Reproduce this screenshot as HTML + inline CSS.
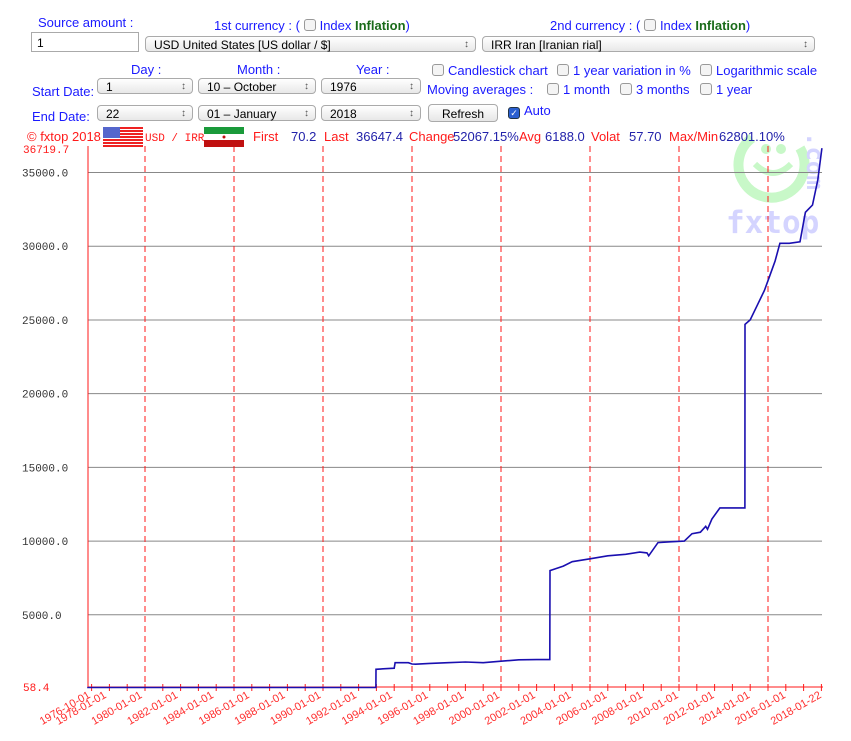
<!DOCTYPE html>
<html><head><meta charset="utf-8">
<style>
body{margin:0;width:851px;height:741px;background:#fff;font-family:"Liberation Sans",sans-serif;position:relative;overflow:hidden}
.a{position:absolute;white-space:nowrap}
.lb{color:#1a1aff;font-size:13px}
.sel{position:absolute;height:16px;border:1px solid #aaa;border-radius:4px;background:linear-gradient(#fff,#e8e8e8);font-size:12px;line-height:16px;padding-left:8px;box-sizing:border-box;color:#000}
.sel:after{content:"\2195";position:absolute;right:6px;top:0;font-size:10px;color:#555}
.cb{display:inline-block;width:10px;height:10px;border:1px solid #999;border-radius:3px;background:#f4f4f4;vertical-align:-1px;margin-right:4px}
.g{color:#1a6b1a;font-weight:bold}
</style></head><body>
<div class="a lb" style="left:38px;top:15px">Source amount :</div>
<div class="a" style="left:31px;top:32px;width:108px;height:20px;border:1px solid #aaa;box-sizing:border-box;font-size:12px;padding:3px 5px">1</div>
<div class="a lb" style="left:214px;top:18px">1st currency : ( <span class="cb"></span>Index <span class="g">Inflation</span>)</div>
<div class="sel" style="left:145px;top:36px;width:331px">USD United States [US dollar / $]</div>
<div class="a lb" style="left:550px;top:18px">2nd currency : ( <span class="cb"></span>Index <span class="g">Inflation</span>)</div>
<div class="sel" style="left:482px;top:36px;width:333px">IRR Iran [Iranian rial]</div>
<div class="a lb" style="left:131px;top:62px">Day :</div>
<div class="a lb" style="left:237px;top:62px">Month :</div>
<div class="a lb" style="left:356px;top:62px">Year :</div>
<div class="a lb" style="left:32px;top:84px">Start Date:</div>
<div class="a lb" style="left:32px;top:109px">End Date:</div>
<div class="sel" style="left:97px;top:78px;width:96px">1</div>
<div class="sel" style="left:198px;top:78px;width:118px">10 – October</div>
<div class="sel" style="left:321px;top:78px;width:100px">1976</div>
<div class="sel" style="left:97px;top:105px;width:96px">22</div>
<div class="sel" style="left:198px;top:105px;width:118px">01 – January</div>
<div class="sel" style="left:321px;top:105px;width:100px">2018</div>
<div class="a lb" style="left:432px;top:63px"><span class="cb"></span>Candlestick chart</div>
<div class="a lb" style="left:557px;top:63px"><span class="cb"></span>1 year variation in %</div>
<div class="a lb" style="left:700px;top:63px"><span class="cb"></span>Logarithmic scale</div>
<div class="a lb" style="left:427px;top:82px">Moving averages :</div>
<div class="a lb" style="left:547px;top:82px"><span class="cb"></span>1 month</div>
<div class="a lb" style="left:620px;top:82px"><span class="cb"></span>3 months</div>
<div class="a lb" style="left:700px;top:82px"><span class="cb"></span>1 year</div>
<div class="a" style="left:428px;top:104px;width:70px;height:18px;border:1px solid #aaa;border-radius:4px;background:linear-gradient(#fff,#e6e6e6);font-size:12px;text-align:center;line-height:18px;box-sizing:border-box">Refresh</div>
<div class="a lb" style="left:508px;top:103px"><span class="cb" style="background:#2a5fd0;border-color:#234;color:#fff;font-size:9px;line-height:10px;text-align:center">✓</span>Auto</div>

<svg class="a" style="left:0;top:0" width="851" height="741">
<g>
<path d="M752 138 A33 33 0 1 0 800 148" fill="none" stroke="#c8f8c8" stroke-width="10"/>
<circle cx="766" cy="149" r="5" fill="#c8f8c8"/><circle cx="781" cy="149" r="5" fill="#c8f8c8"/>
<path d="M755 164 Q773 182 791 164" fill="none" stroke="#c8f8c8" stroke-width="6"/>
<text x="726" y="233" font-family="DejaVu Sans Mono,monospace" font-size="31" fill="#d4d4ff" font-weight="bold">fxtop</text>
<text x="0" y="0" transform="translate(807,132) rotate(90)" font-family="DejaVu Sans Mono,monospace" font-size="24" fill="#d4d4ff" font-weight="bold">.com</text>
</g>
<g id="grid"></g><g id="axes"></g><path id="line" fill="none" stroke="#1a0fb0" stroke-width="1.6"/>
<g font-size="13">
<text x="27" y="141" fill="#ff1a1a">© fxtop 2018</text>
<text x="145" y="141" fill="#ff1a1a" font-family="Liberation Mono,monospace" font-size="11">USD / IRR</text>
<text x="253" y="141" fill="#ff1a1a">First</text><text x="291" y="141" fill="#2222aa">70.2</text>
<text x="324" y="141" fill="#ff1a1a">Last</text><text x="356" y="141" fill="#2222aa">36647.4</text>
<text x="409" y="141" fill="#ff1a1a">Change</text><text x="453" y="141" fill="#2222aa">52067.15%</text>
<text x="519" y="141" fill="#ff1a1a">Avg</text><text x="545" y="141" fill="#2222aa">6188.0</text>
<text x="591" y="141" fill="#ff1a1a">Volat</text><text x="629" y="141" fill="#2222aa">57.70</text>
<text x="669" y="141" fill="#ff1a1a">Max/Min</text><text x="719" y="141" fill="#2222aa">62801.10%</text>
</g>
<g>
<rect x="103" y="127" width="40" height="20" fill="#fff"/>
<g fill="#e22">
<rect x="103" y="127" width="40" height="2"/><rect x="103" y="130" width="40" height="2"/><rect x="103" y="133" width="40" height="2"/><rect x="103" y="136" width="40" height="2"/><rect x="103" y="139" width="40" height="2"/><rect x="103" y="142" width="40" height="2"/><rect x="103" y="145" width="40" height="2"/></g>
<rect x="103" y="127" width="17" height="11" fill="#5566cc"/></g>
<g>
<rect x="204" y="127" width="40" height="7" fill="#1a9a3a"/><rect x="204" y="134" width="40" height="6" fill="#fff"/><rect x="204" y="140" width="40" height="7" fill="#c01010"/><circle cx="224" cy="137" r="1.5" fill="#c01010"/></g>
</svg>
<script>
const yTicks=[5000,10000,15000,20000,25000,30000,35000];
const yMin=58.4, yMax=36719.7;
const xLabels=["1976-10-01","1978-01-01","1980-01-01","1982-01-01","1984-01-01","1986-01-01","1988-01-01","1990-01-01","1992-01-01","1994-01-01","1996-01-01","1998-01-01","2000-01-01","2002-01-01","2004-01-01","2006-01-01","2008-01-01","2010-01-01","2012-01-01","2014-01-01","2016-01-01","2018-01-22"];
const dates=[1976.75,1992.97,1992.98,1993.5,1994.0,1994.05,1994.8,1995.0,1995.2,1996.0,1997.0,1998.0,1999.0,2000.0,2001.0,2002.0,2002.74,2002.75,2003.0,2003.5,2004.0,2005.0,2006.0,2007.0,2007.8,2008.2,2008.3,2008.82,2009.5,2010.3,2010.73,2011.2,2011.5,2011.6,2011.85,2012.3,2013.7,2013.71,2014.0,2014.4,2014.8,2015.1,2015.4,2015.67,2016.2,2016.8,2017.1,2017.5,2017.8,2018.03];
const values=[70,70,1300,1340,1380,1750,1750,1660,1650,1700,1750,1800,1750,1850,1950,1960,1960,8000,8100,8300,8600,8800,9000,9100,9250,9200,9000,9900,9950,10000,10500,10600,11000,10800,11500,12250,12250,24700,25000,26000,27000,28000,29000,30200,30200,30300,32300,32800,34500,36650];
const NS="http://www.w3.org/2000/svg";
const Y0=688.5,YPX=0.014742;
const x=d=>145+(d-1980)*17.8;
const y=v=>Y0-v*YPX;
const grid=document.getElementById('grid'),axes=document.getElementById('axes');
function mk(t,a,p){const e=document.createElementNS(NS,t);for(const k in a)e.setAttribute(k,a[k]);(p||grid).appendChild(e);return e;}
yTicks.forEach(v=>{
 const l=mk('line',{x1:88,x2:822,y1:y(v),y2:y(v),stroke:'#888','stroke-width':1});
 
 
 const t=mk('text',{x:22,y:y(v)+4,'font-family':'Liberation Mono,monospace','font-size':11,fill:'#333'});
 t.textContent=v.toFixed(1);
 
 
});
[[yMax,y(yMax)+6],[yMin,691]].forEach(([v,py])=>{
 const t=mk('text',{x:23,y:py,'font-family':'Liberation Mono,monospace','font-size':11,fill:'#ff1a1a'});
 t.textContent=v.toFixed(1);
 
 
});
for(let yr=1980;yr<=2015;yr+=5){
 const l=mk('line',{x1:x(yr),x2:x(yr),y1:146,y2:687,stroke:'#ff1a1a','stroke-dasharray':'6,4'});
 
 
}
mk('line',{x1:88,x2:88,y1:146,y2:687,stroke:'#ff1a1a'},axes);
mk('line',{x1:88,x2:823,y1:687,y2:687,stroke:'#ff1a1a'},axes);
for(let yr=1977;yr<=2018.1;yr+=1){mk('line',{x1:x(yr),x2:x(yr),y1:684,y2:691,stroke:'#ff1a1a'},axes);}
xLabels.forEach((s,i)=>{
 const px=i==0?91:(i==xLabels.length-1?822:107+(i-1)*(822-107)/20);
 const t=mk('text',{x:0,y:0,transform:`translate(${px},${697}) rotate(-30)`,'text-anchor':'end','font-size':11,fill:'#ff3030'},axes);
 t.textContent=s;
 
 
});
let d='';dates.forEach((dt,i)=>{d+=(i?'L':'M')+x(dt).toFixed(1)+' '+y(values[i]).toFixed(1);});
document.getElementById('line').setAttribute('d',d);
</script>
</body></html>
